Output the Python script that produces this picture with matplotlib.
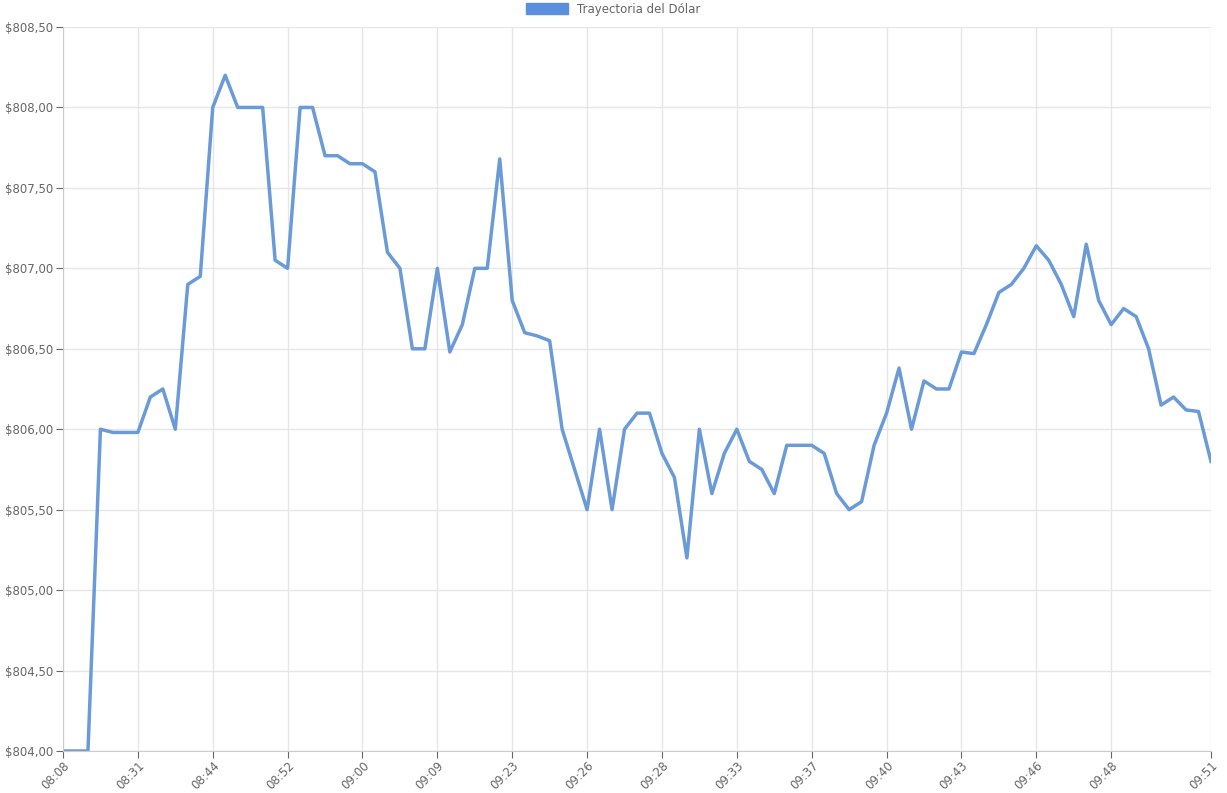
import matplotlib.pyplot as plt
import matplotlib.patches as mpatches
from matplotlib.ticker import FuncFormatter

values = [804.0, 804.0, 804.0,
          806.0, 805.98, 805.98, 805.98, 806.2, 806.25, 806.0, 806.9, 806.95,
          808.0, 808.2, 808.0, 808.0, 808.0, 807.05, 807.0, 808.0, 808.0, 807.7,
          807.7, 807.65, 807.65, 807.6, 807.1, 807.0, 806.5, 806.5, 807.0, 806.48,
          806.65, 807.0, 807.0, 807.68, 806.8, 806.6, 806.58, 806.55, 806.0, 805.75,
          805.5, 806.0, 805.5, 806.0, 806.1, 806.1, 805.85, 805.7, 805.2, 806.0,
          805.6, 805.85, 806.0, 805.8, 805.75, 805.6, 805.9, 805.9, 805.9, 805.85,
          805.6, 805.5, 805.55, 805.9, 806.1, 806.38, 806.0, 806.3, 806.25, 806.25,
          806.48, 806.47, 806.65, 806.85, 806.9, 807.0, 807.14, 807.05, 806.9, 806.7,
          807.15, 806.8, 806.65, 806.75, 806.7, 806.5, 806.15, 806.2, 806.12, 806.11,
          805.8]
tick_idx = list(range(0, 85, 6)) + [92]
tick_labels = ['08:08', '08:31', '08:44', '08:52', '09:00', '09:09', '09:23', '09:26',
               '09:28', '09:33', '09:37', '09:40', '09:43', '09:46', '09:48', '09:51']

fig = plt.figure(figsize=(12.27, 7.93), dpi=100)
ax = fig.add_axes([63/1227, 42/793, 1148/1227, 724/793])
ax.plot(range(len(values)), values, color='#6a9bd8', lw=2.5)
ax.set_xlim(0, len(values) - 1)
ax.set_ylim(804, 808.5)
ax.set_yticks([804 + 0.5 * k for k in range(10)])
ax.yaxis.set_major_formatter(FuncFormatter(lambda v, p: ('$%.2f' % v).replace('.', ',')))
ax.set_xticks(tick_idx)
ax.set_xticklabels(tick_labels, rotation=45, ha='right', rotation_mode='anchor')
ax.grid(color='#e6e6e6', lw=1)
for s in ['top', 'right']:
    ax.spines[s].set_visible(False)
for s in ['left', 'bottom']:
    ax.spines[s].set_color('#cccccc')
ax.tick_params(colors='#666666', labelsize=8.5, length=5, pad=2)
ax.tick_params(axis='x', labelcolor='#666666', pad=1)

handle = mpatches.Patch(facecolor='#5b8fde', edgecolor='#5b8fde', label='Trayectoria del Dólar')
fig.legend(handles=[handle], loc='upper center', bbox_to_anchor=(0.5, 1.01), frameon=False,
           fontsize=8.5, handlelength=3.5, handleheight=1.1, labelcolor='#666666')

plt.savefig('out.png', dpi=100)
